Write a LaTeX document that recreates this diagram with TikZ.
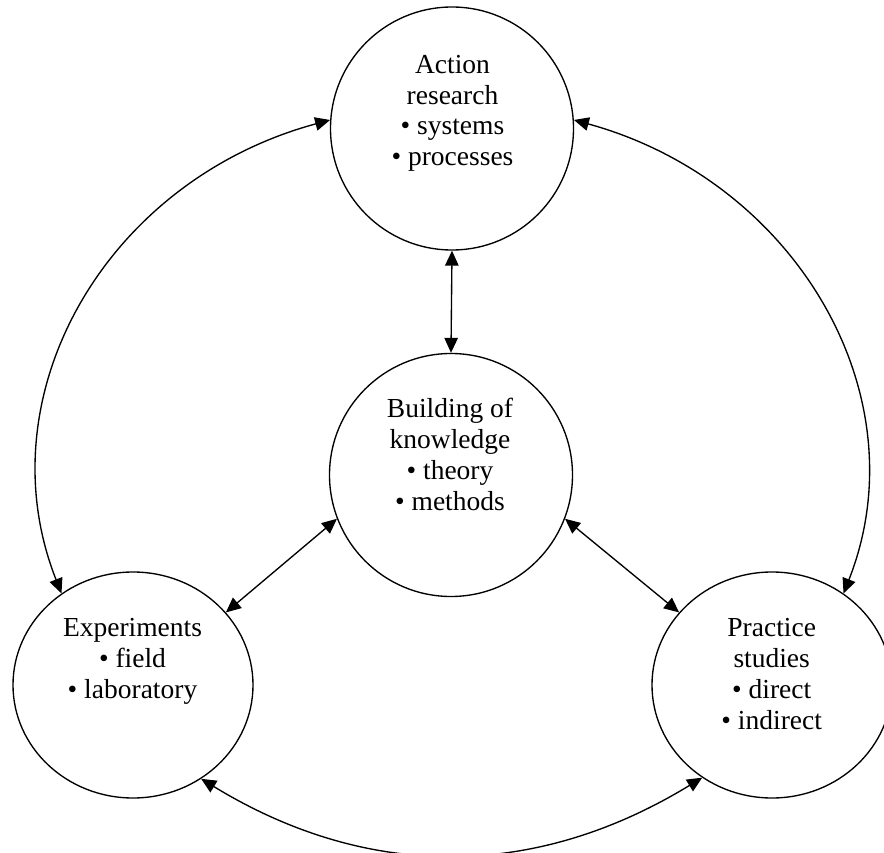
\documentclass[tikz,border=0pt]{standalone}
\usepackage{fontspec}
\setmainfont{Liberation Serif}
\usetikzlibrary{arrows.meta,shapes.geometric}
\begin{document}
\begin{tikzpicture}[x=1pt,y=-1pt,
  bubble/.style={draw, line width=1.35pt, circle, minimum size=243pt, inner sep=0pt},
  oval/.style={draw, line width=1.35pt, ellipse, minimum width=240pt, minimum height=226pt, inner sep=0pt},
  btext/.style={align=center, font=\fontsize{27.5}{30.8}\selectfont, anchor=base, inner sep=0pt},
  link/.style={line width=1.35pt, {Triangle[length=15pt,width=13.5pt]}-{Triangle[length=15pt,width=13.5pt]}}
]
\useasboundingbox (0,0) rectangle (884,853);
\fill[white] (0,0) rectangle (884,853);

\node[bubble] (ar) at (452,128.5) {};
\node[bubble] (bk) at (451,475) {};
\node[oval] (ex) at (133,685) {};
\node[oval] (ps) at (772,685) {};

\node[btext] (art) at (452.5,165.7) {Action\\research\\• systems\\• processes};
\node[btext] (bkt) at (450,510) {Building of\\knowledge\\• theory\\• methods};
\node[btext] (ext) at (132.5,698) {Experiments\\• field\\• laboratory};
\node[btext] (pst) at (771.7,729) {Practice\\studies\\• direct\\• indirect};

\draw[link] (ar.south) -- (bk.north);
\draw[link] (bk.201) -- (ex.38);
\draw[link] (bk.339) -- (ps.142);
\draw[link] (ar.176) .. controls +(-225,61) and +(-78,-198) .. (ex.128);
\draw[link] (ar.4) .. controls +(222,61) and +(78,-198) .. (ps.52);
\draw[link] (ex.306) .. controls +(167,102) and +(-167,102) .. (ps.233);
\end{tikzpicture}
\end{document}
